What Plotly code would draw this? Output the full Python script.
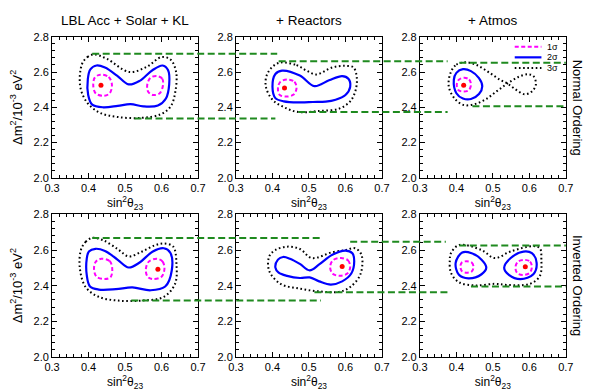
import plotly.graph_objects as go

FONT = "Liberation Sans, Arial, Helvetica, sans-serif"

# ---------------------------------------------------------------- axes / text
X_RANGE = [0.3, 0.7]
Y_RANGE = [2.0, 2.8]
X_TITLE = "sin<sup>2</sup>θ<sub>23</sub>"
Y_TITLE = "Δm<sup>2</sup>/10<sup>-3</sup> eV<sup>2</sup>"
COLUMN_TITLES = ["LBL Acc + Solar + KL", "+ Reactors", "+ Atmos"]
ROW_TITLES = ["Normal Ordering", "Inverted Ordering"]
SIGMA_LABELS = ["1σ", "2σ", "3σ"]

# ------------------------------------------------- Normal ordering contours
# LBL Acc + Solar + KL
no_lbl_best = (0.434, 2.525)
no_lbl_1s_a = [(0.432, 2.585), (0.455, 2.572), (0.464, 2.530), (0.458, 2.480),
               (0.442, 2.465), (0.420, 2.478), (0.413, 2.520), (0.417, 2.568)]
no_lbl_1s_b = [(0.588, 2.577), (0.602, 2.562), (0.604, 2.525), (0.595, 2.480),
               (0.576, 2.470), (0.563, 2.490), (0.561, 2.530), (0.570, 2.568)]
no_lbl_2s = [(0.398, 2.560), (0.405, 2.615), (0.422, 2.637), (0.445, 2.625),
             (0.478, 2.580), (0.510, 2.530), (0.540, 2.550), (0.575, 2.610),
             (0.603, 2.637), (0.618, 2.610), (0.621, 2.530), (0.612, 2.450),
             (0.590, 2.410), (0.550, 2.405), (0.515, 2.418), (0.480, 2.408),
             (0.440, 2.400), (0.410, 2.415), (0.399, 2.470)]
no_lbl_3s = [(0.382, 2.645), (0.397, 2.685), (0.415, 2.700), (0.450, 2.675),
             (0.512, 2.600), (0.560, 2.630), (0.600, 2.685), (0.625, 2.670),
             (0.640, 2.600), (0.638, 2.490), (0.625, 2.405), (0.597, 2.360),
             (0.545, 2.340), (0.480, 2.345), (0.430, 2.370), (0.395, 2.430),
             (0.377, 2.520)]

# + Reactors
no_rea_best = (0.433, 2.509)
no_rea_1s = [(0.440, 2.557), (0.460, 2.545), (0.466, 2.510), (0.458, 2.472),
             (0.438, 2.461), (0.420, 2.470), (0.415, 2.505), (0.421, 2.543)]
no_rea_2s = [(0.400, 2.516), (0.408, 2.589), (0.426, 2.608), (0.475, 2.580),
             (0.515, 2.520), (0.555, 2.553), (0.591, 2.577), (0.608, 2.562),
             (0.613, 2.516), (0.600, 2.470), (0.573, 2.443), (0.546, 2.432),
             (0.511, 2.430), (0.475, 2.428), (0.431, 2.434), (0.408, 2.452)]
no_rea_3s = [(0.422, 2.654), (0.466, 2.639), (0.493, 2.608), (0.520, 2.586),
             (0.564, 2.626), (0.600, 2.635), (0.622, 2.626), (0.631, 2.571),
             (0.628, 2.498), (0.613, 2.434), (0.582, 2.392), (0.528, 2.379),
             (0.471, 2.373), (0.435, 2.397), (0.400, 2.443), (0.382, 2.516),
             (0.384, 2.580), (0.400, 2.630)]

# + Atmos
no_atm_best = (0.420, 2.525)
no_atm_1s = [(0.420, 2.567), (0.435, 2.558), (0.440, 2.528), (0.434, 2.497),
             (0.420, 2.489), (0.406, 2.497), (0.401, 2.527), (0.407, 2.557)]
no_atm_2s = [(0.393, 2.555), (0.400, 2.595), (0.418, 2.616), (0.440, 2.605),
             (0.462, 2.565), (0.471, 2.520), (0.462, 2.475), (0.440, 2.447),
             (0.418, 2.450), (0.400, 2.480)]
no_atm_3s = [(0.385, 2.600), (0.400, 2.642), (0.425, 2.655), (0.455, 2.640),
             (0.490, 2.597), (0.522, 2.553), (0.540, 2.535), (0.560, 2.505),
             (0.587, 2.474), (0.607, 2.490), (0.618, 2.530), (0.612, 2.575),
             (0.597, 2.587), (0.570, 2.572), (0.540, 2.535), (0.510, 2.490),
             (0.480, 2.445), (0.450, 2.418), (0.420, 2.413), (0.395, 2.450),
             (0.379, 2.520)]

# ----------------------------------------------- Inverted ordering contours
# LBL Acc + Solar + KL
io_lbl_best = (0.590, 2.492)
io_lbl_1s_a = [(0.435, 2.551), (0.458, 2.538), (0.465, 2.490), (0.460, 2.447),
               (0.445, 2.437), (0.422, 2.450), (0.415, 2.495), (0.420, 2.535)]
io_lbl_1s_b = [(0.588, 2.551), (0.603, 2.535), (0.608, 2.495), (0.600, 2.450),
               (0.576, 2.437), (0.562, 2.450), (0.557, 2.490), (0.565, 2.535)]
io_lbl_2s = [(0.395, 2.550), (0.401, 2.592), (0.419, 2.607), (0.445, 2.595),
             (0.480, 2.545), (0.510, 2.502), (0.540, 2.530), (0.575, 2.590),
             (0.606, 2.610), (0.624, 2.585), (0.628, 2.485), (0.610, 2.395),
             (0.570, 2.374), (0.520, 2.390), (0.475, 2.380), (0.428, 2.378),
             (0.404, 2.395), (0.395, 2.460)]
io_lbl_3s = [(0.379, 2.600), (0.392, 2.646), (0.410, 2.668), (0.440, 2.655),
             (0.480, 2.605), (0.510, 2.564), (0.545, 2.590), (0.580, 2.625),
             (0.606, 2.637), (0.632, 2.619), (0.641, 2.520), (0.637, 2.410),
             (0.606, 2.337), (0.544, 2.316), (0.481, 2.316), (0.428, 2.337),
             (0.392, 2.392), (0.376, 2.500)]

# + Reactors
io_rea_best = (0.591, 2.508)
io_rea_1s = [(0.588, 2.555), (0.607, 2.542), (0.613, 2.505), (0.605, 2.468),
             (0.585, 2.455), (0.565, 2.467), (0.558, 2.505), (0.566, 2.543)]
io_rea_2s = [(0.408, 2.501), (0.415, 2.546), (0.429, 2.561), (0.448, 2.551),
             (0.475, 2.522), (0.502, 2.486), (0.528, 2.519), (0.564, 2.573),
             (0.600, 2.597), (0.619, 2.582), (0.624, 2.537), (0.616, 2.468),
             (0.591, 2.424), (0.560, 2.406), (0.528, 2.424), (0.502, 2.446),
             (0.475, 2.443), (0.440, 2.455), (0.417, 2.473)]
io_rea_3s = [(0.408, 2.600), (0.440, 2.619), (0.475, 2.606), (0.508, 2.555),
             (0.564, 2.588), (0.600, 2.600), (0.626, 2.610), (0.644, 2.573),
             (0.641, 2.464), (0.613, 2.392), (0.582, 2.365), (0.528, 2.368),
             (0.475, 2.383), (0.422, 2.410), (0.391, 2.483), (0.391, 2.564)]

# + Atmos
io_atm_best = (0.589, 2.506)
io_atm_1s_a = [(0.428, 2.537), (0.442, 2.530), (0.447, 2.505), (0.442, 2.480),
               (0.430, 2.473), (0.416, 2.480), (0.411, 2.506), (0.415, 2.530)]
io_atm_1s_b = [(0.586, 2.545), (0.602, 2.535), (0.607, 2.504), (0.601, 2.472),
               (0.583, 2.460), (0.567, 2.470), (0.562, 2.504), (0.569, 2.535)]
io_atm_2s_a = [(0.398, 2.528), (0.416, 2.586), (0.442, 2.582), (0.469, 2.546),
               (0.482, 2.501), (0.469, 2.464), (0.433, 2.441), (0.407, 2.461)]
io_atm_2s_b = [(0.531, 2.501), (0.549, 2.555), (0.584, 2.591), (0.607, 2.582),
               (0.620, 2.528), (0.611, 2.464), (0.576, 2.437), (0.544, 2.461)]
io_atm_3s = [(0.385, 2.582), (0.407, 2.628), (0.469, 2.600), (0.505, 2.555),
             (0.549, 2.592), (0.611, 2.622), (0.629, 2.610), (0.633, 2.546),
             (0.629, 2.455), (0.602, 2.410), (0.540, 2.404), (0.505, 2.410),
             (0.451, 2.401), (0.407, 2.419), (0.385, 2.473), (0.382, 2.546)]

# ------------------------------------ projection guides (level, from, to)
# from / to are (column, sin^2 theta_23) in that column's own axis units
no_guide_level = [2.703, 2.337, 2.661, 2.373, 2.652, 2.406]
no_guide_from = [(0, 0.410), (0, 0.526), (1, 0.417), (1, 0.471), (2, 0.408), (2, 0.444)]
no_guide_to = [(1, 0.413), (1, 0.408), (2, 0.376), (2, 0.376), (2, 0.700), (2, 0.700)]
io_guide_level = [2.668, 2.316, 2.646, 2.363, 2.626, 2.395]
io_guide_from = [(0, 0.410), (0, 0.517), (1, 0.613), (1, 0.515), (2, 0.408), (2, 0.440)]
io_guide_to = [(1, 0.533), (1, 0.533), (2, 0.371), (2, 0.376), (2, 0.700), (2, 0.700)]

# ------------------------------------------------------------------ styling
COL_DOMAINS = [[0.0765, 0.3299], [0.3958, 0.6492], [0.7151, 0.9684]]
ROW_DOMAINS = [[0.5465, 0.9189], [0.0742, 0.4501]]
C1, C2, C3 = "#ff00ff", "#0000ff", "#000000"
GREEN = "#1f8a1f"
STYLE_1S = dict(color=C1, width=2, dash="4px,2.5px", shape="spline")
STYLE_2S = dict(color=C2, width=2.2, shape="spline")
STYLE_3S = dict(color=C3, width=2, dash="1.6px,2.6px", shape="spline")

panels = [
    # (row, col, 1 sigma loops, 2 sigma loops, 3 sigma loops, best fit)
    (0, 0, [no_lbl_1s_a, no_lbl_1s_b], [no_lbl_2s], [no_lbl_3s], no_lbl_best),
    (0, 1, [no_rea_1s], [no_rea_2s], [no_rea_3s], no_rea_best),
    (0, 2, [no_atm_1s], [no_atm_2s], [no_atm_3s], no_atm_best),
    (1, 0, [io_lbl_1s_a, io_lbl_1s_b], [io_lbl_2s], [io_lbl_3s], io_lbl_best),
    (1, 1, [io_rea_1s], [io_rea_2s], [io_rea_3s], io_rea_best),
    (1, 2, [io_atm_1s_a, io_atm_1s_b], [io_atm_2s_a, io_atm_2s_b], [io_atm_3s], io_atm_best),
]


def loop_xy(pts):
    """Close a contour so the spline is drawn as a smooth closed curve."""
    xs = [p[0] for p in pts] + [pts[0][0]]
    ys = [p[1] for p in pts] + [pts[0][1]]
    return xs, ys


def axis_suffix(k):
    return "" if k == 1 else str(k)


def paper_x(col, value):
    d0, d1 = COL_DOMAINS[col]
    return d0 + (value - X_RANGE[0]) / (X_RANGE[1] - X_RANGE[0]) * (d1 - d0)


fig = go.Figure()
layout_axes = {}

for row, col, s1, s2, s3, best in panels:
    k = row * 3 + col + 1
    sfx = axis_suffix(k)
    xa, ya = "x" + sfx, "y" + sfx
    for loops, style in ((s3, STYLE_3S), (s2, STYLE_2S), (s1, STYLE_1S)):
        for loop in loops:
            xs, ys = loop_xy(loop)
            fig.add_trace(go.Scatter(x=xs, y=ys, mode="lines", line=style,
                                     xaxis=xa, yaxis=ya, showlegend=False,
                                     hoverinfo="skip"))
    fig.add_trace(go.Scatter(x=[best[0]], y=[best[1]], mode="markers",
                             marker=dict(color="#ff0000", size=5),
                             xaxis=xa, yaxis=ya, showlegend=False))

    tick_font = dict(family=FONT, size=11, color="black")
    layout_axes["xaxis" + sfx] = dict(
        domain=COL_DOMAINS[col], range=X_RANGE, anchor=ya,
        tickmode="linear", tick0=0.3, dtick=0.1, tickformat=".1f",
        ticks="inside", ticklen=5, tickcolor="black", tickfont=tick_font,
        minor=dict(tick0=0.3, dtick=0.02, ticks="inside", ticklen=3,
                   tickcolor="black", showgrid=False),
        showline=True, linecolor="black", linewidth=1, mirror="allticks",
        showgrid=False, zeroline=False, fixedrange=True,
        title=dict(text=X_TITLE, standoff=1,
                   font=dict(family=FONT, size=12, color="black")))
    layout_axes["yaxis" + sfx] = dict(
        domain=ROW_DOMAINS[row], range=Y_RANGE, anchor=xa,
        tickmode="linear", tick0=2.0, dtick=0.2, tickformat=".1f",
        ticks="inside", ticklen=5, tickcolor="black", tickfont=tick_font,
        minor=dict(tick0=2.0, dtick=0.04, ticks="inside", ticklen=3,
                   tickcolor="black", showgrid=False),
        showline=True, linecolor="black", linewidth=1, mirror="allticks",
        showgrid=False, zeroline=False, fixedrange=True,
        title=dict(text=Y_TITLE if col == 0 else "", standoff=8,
                   font=dict(family=FONT, size=13, color="black")))

# green projection guides crossing from one panel into the next
shapes = []
for row, levels, starts, ends in ((0, no_guide_level, no_guide_from, no_guide_to),
                                  (1, io_guide_level, io_guide_from, io_guide_to)):
    yref = "y" if row == 0 else "y4"
    for level, (c0, v0), (c1, v1) in zip(levels, starts, ends):
        shapes.append(dict(type="line", xref="paper", yref=yref,
                           x0=paper_x(c0, v0), x1=paper_x(c1, v1),
                           y0=level, y1=level, layer="above",
                           line=dict(color=GREEN, width=2, dash="7px,3.5px")))

# sigma key inside the top-right panel
key_styles = [STYLE_1S, STYLE_2S, STYLE_3S]
key_y = [0.929, 0.854, 0.778]
annotations = []
for label, style, yy in zip(SIGMA_LABELS, key_styles, key_y):
    line = {k: v for k, v in style.items() if k != "shape"}
    shapes.append(dict(type="line", xref="x3 domain", yref="y3 domain",
                       x0=0.65, x1=0.833, y0=yy, y1=yy, line=line))
    annotations.append(dict(text=label, xref="x3 domain", yref="y3 domain",
                            x=0.86, y=yy, xanchor="left", yanchor="middle",
                            showarrow=False,
                            font=dict(family=FONT, size=9, color="black")))

for col, title in enumerate(COLUMN_TITLES):
    annotations.append(dict(text=title, xref="paper", yref="paper",
                            x=sum(COL_DOMAINS[col]) / 2, y=1 - 14.5 / 391,
                            xanchor="center", yanchor="middle", showarrow=False,
                            font=dict(family=FONT, size=13.5, color="black")))

for row, title in enumerate(ROW_TITLES):
    annotations.append(dict(text=title, xref="paper", yref="paper",
                            x=0.989, y=sum(ROW_DOMAINS[row]) / 2, textangle=90,
                            xanchor="center", yanchor="middle", showarrow=False,
                            font=dict(family=FONT, size=13, color="black")))

fig.update_layout(
    width=592, height=391,
    margin=dict(l=0, r=0, t=0, b=0),
    paper_bgcolor="white", plot_bgcolor="white",
    showlegend=False,
    shapes=shapes, annotations=annotations,
    **layout_axes,
)

fig.write_html("out.html")
